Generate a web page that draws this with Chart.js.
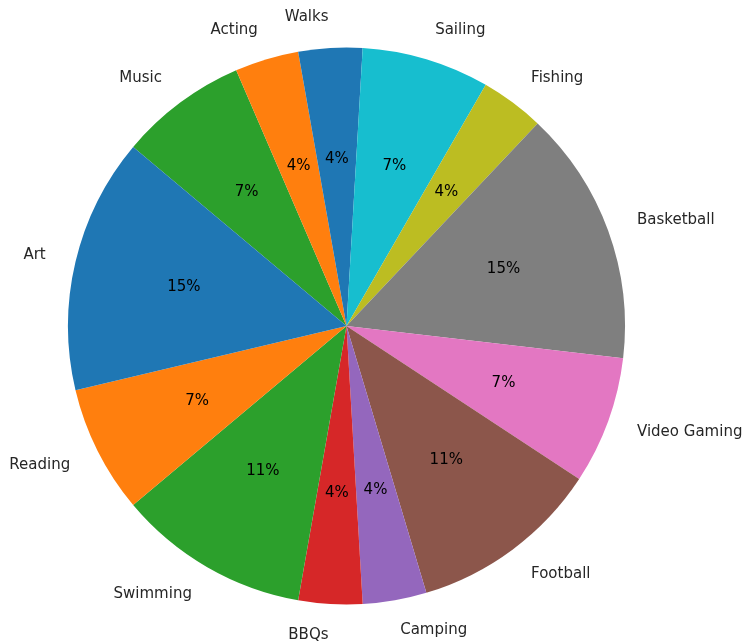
<!DOCTYPE html>
<html>
<head>
<meta charset="utf-8">
<script src="https://cdn.jsdelivr.net/npm/chart.js@4/dist/chart.umd.min.js"></script>
<style>
  body { margin: 0; background: #fff; }
</style>
</head>
<body>
<canvas id="hobbies-pie" width="750" height="643"></canvas>
<script>
// counter-clockwise order, as the slices go round the pie
const hobbies = ["Art", "Reading", "Swimming", "BBQs", "Camping", "Football",
  "Video Gaming", "Basketball", "Fishing", "Sailing", "Walks", "Acting", "Music"];
const counts = [4, 2, 3, 1, 1, 3, 2, 4, 1, 2, 1, 1, 2];

const tab10 = ["#1f77b4", "#ff7f0e", "#2ca02c", "#d62728", "#9467bd",
  "#8c564b", "#e377c2", "#7f7f7f", "#bcbd22", "#17becf"];

const startAngle = 140; // degrees, counter-clockwise from the x axis

// Chart.js goes clockwise, so feed the slices in reverse
const labels = hobbies.slice().reverse();
const values = counts.slice().reverse();
const colors = hobbies.map((_, i) => tab10[i % 10]).reverse();

const total = counts.reduce((a, b) => a + b, 0);

//Draw the outer labels and the percentages
const pieLabels = {
  id: "pieLabels",
  afterDraw(chart) {
    const ctx = chart.ctx;
    const arcs = chart.getDatasetMeta(0).data;
    ctx.save();
    ctx.font = "15px 'DejaVu Sans'";
    ctx.textBaseline = "middle";
    arcs.forEach((arc, i) => {
      const mid = (arc.startAngle + arc.endAngle) / 2;
      const r = arc.outerRadius;
      const cx = Math.cos(mid);
      const cy = Math.sin(mid);

      ctx.fillStyle = "#262626";
      ctx.textAlign = cx > 0 ? "left" : "right";
      ctx.fillText(labels[i], arc.x + cx * r * 1.11, arc.y + cy * r * 1.11);

      ctx.fillStyle = "#000";
      ctx.textAlign = "center";
      const pct = Math.round((values[i] * 100) / total) + "%";
      ctx.fillText(pct, arc.x + cx * r * 0.6, arc.y + cy * r * 0.6);
    });
    ctx.restore();
  },
};

const pieConfig = {
  type: "pie",
  data: {
    labels: labels,
    datasets: [
      {
        data: values,
        backgroundColor: colors,
        borderWidth: 0,
      },
    ],
  },
  options: {
    responsive: false,
    animation: false,
    rotation: 90 - startAngle,
    layout: {
      padding: { left: 68, right: 125, top: 47, bottom: 38 },
    },
    plugins: {
      legend: { display: false },
      tooltip: { enabled: false },
    },
  },
  plugins: [pieLabels],
};

new Chart(document.getElementById("hobbies-pie").getContext("2d"), pieConfig);
</script>
</body>
</html>
